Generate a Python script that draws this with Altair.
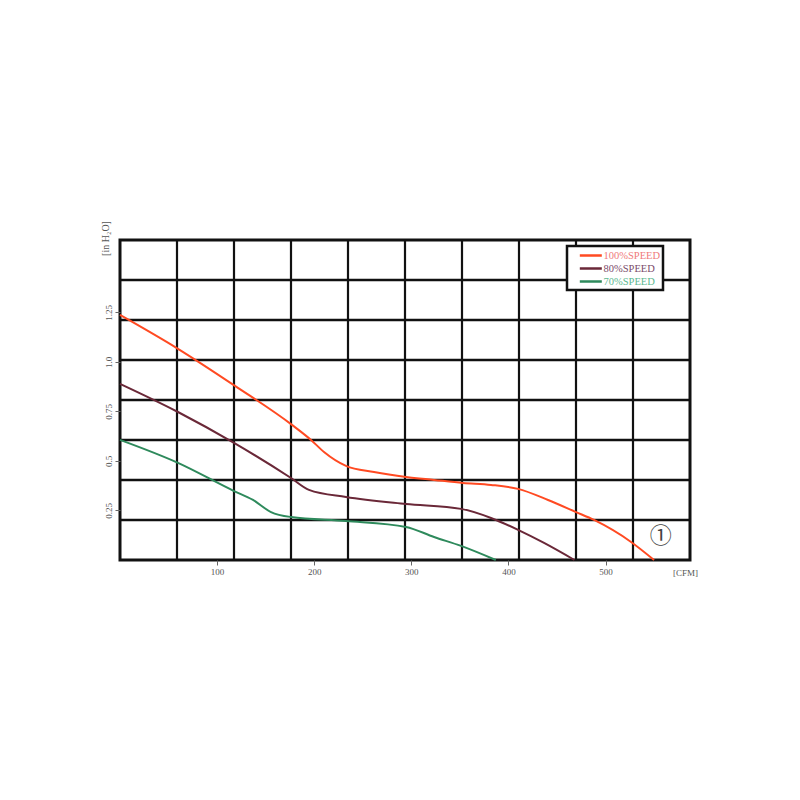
import altair as alt
import pandas as pd

# ---- data ----
series_names = ["100%SPEED", "80%SPEED", "70%SPEED"]
series_colors = ["#ff4a22", "#6a2838", "#2e8a5c"]
label_colors = ["#f07a7a", "#7a4a6a", "#5cb890"]

red_cfm = [0, 59.7, 118.4, 177.1, 196.7, 210.1, 232.7, 261.6, 294.5, 323.4, 353.2, 382.1, 409.9, 440.8, 469.6, 488.2, 526.3, 550]
red_p = [1.237, 1.066, 0.879, 0.682, 0.606, 0.545, 0.475, 0.444, 0.419, 0.404, 0.389, 0.379, 0.359, 0.303, 0.242, 0.202, 0.091, 0.0]

mar_cfm = [0, 59.7, 117.4, 176.1, 194.6, 232.7, 294.5, 351.2, 382.1, 409.9, 436.7, 468]
mar_p = [0.889, 0.747, 0.591, 0.414, 0.354, 0.318, 0.283, 0.258, 0.212, 0.152, 0.086, 0.0]

grn_cfm = [0, 59.7, 117.4, 137, 155.5, 176.1, 232.7, 294.5, 323.4, 351.2, 387]
grn_p = [0.606, 0.490, 0.348, 0.303, 0.242, 0.217, 0.197, 0.167, 0.116, 0.071, 0.0]

x_ticks = [100, 200, 300, 400, 500]
y_ticks = [0.25, 0.5, 0.75, 1.0, 1.25]
y_tick_labels = ["0.25", "0.5", "0.75", "1.0", "1.25"]

X_MAX = 587
Y_MAX = 1.615
x_grid = [X_MAX * i / 10 for i in range(1, 10)]
y_grid = [Y_MAX * i / 8 for i in range(1, 8)]

note_text = ["①"]
note_x = [557]
note_y = [0.121]

# ---- tables ----
rows = []
for name, xs_, ys_ in zip(series_names, [red_cfm, mar_cfm, grn_cfm], [red_p, mar_p, grn_p]):
    for i, (a, b) in enumerate(zip(xs_, ys_)):
        rows.append({"series": name, "cfm": a, "p": b, "order": i})
df = pd.DataFrame(rows)

xs = alt.Scale(domain=[0, X_MAX], nice=False, zero=False)
ys = alt.Scale(domain=[0, Y_MAX], nice=False, zero=False)

label_expr = " : ".join(
    [f"datum.value == {v} ? '{t}'" for v, t in zip(y_ticks, y_tick_labels)] + ["''"]
)
color_expr = " : ".join(
    [f"datum.label == '{n}' ? '{c}'" for n, c in zip(series_names, label_colors)] + ["'#888'"]
)

vgrid = alt.Chart(pd.DataFrame({"g": x_grid})).mark_rule(color="#111", strokeWidth=2.2).encode(
    x=alt.X("g:Q", scale=xs)
)
hgrid = alt.Chart(pd.DataFrame({"g": y_grid})).mark_rule(color="#111", strokeWidth=2.6).encode(
    y=alt.Y("g:Q", scale=ys)
)

lines = alt.Chart(df).mark_line(strokeWidth=2, interpolate="monotone").encode(
    x=alt.X(
        "cfm:Q", scale=xs,
        axis=alt.Axis(
            values=x_ticks, grid=False, domain=False, tickSize=5, tickColor="#666",
            labelFont="Liberation Serif", labelFontSize=9, labelColor="#555", labelPadding=2,
            title="[CFM]", titleFont="Liberation Serif", titleFontSize=9, titleFontWeight="normal",
            titleColor="#555", titleX=565, titleY=12, titleAlign="center", titleBaseline="middle",
        ),
    ),
    y=alt.Y(
        "p:Q", scale=ys,
        axis=alt.Axis(
            values=y_ticks, grid=False, domain=False, tickSize=5, tickColor="#666",
            labelExpr=label_expr, labelAngle=270, labelAlign="center", labelBaseline="bottom",
            labelFont="Liberation Serif", labelFontSize=9, labelColor="#555", labelPadding=2,
            title="[in H₂O]", titleFont="Liberation Serif", titleFontSize=10, titleFontWeight="normal",
            titleColor="#555", titleAngle=270, titleX=-10, titleY=-2, titleAlign="center",
            titleBaseline="bottom",
        ),
    ),
    color=alt.Color(
        "series:N",
        scale=alt.Scale(domain=series_names, range=series_colors),
        sort=series_names,
        legend=alt.Legend(
            title=None, orient="none", legendX=447, legendY=6,
            symbolType="M0.58,0H4.44", symbolSize=130, symbolStrokeWidth=2.5,
            labelFont="Liberation Serif", labelFontSize=10.5, labelColor={"expr": color_expr},
            fillColor="white", strokeColor="#111", padding=2.5, rowPadding=0,
            labelOffset=20,
        ),
    ),
    order="order:Q",
)

note = alt.Chart(pd.DataFrame({"t": note_text, "x": note_x, "y": note_y})).mark_text(
    font="Noto Sans CJK JP", fontSize=22, color="#444"
).encode(x=alt.X("x:Q", scale=xs), y=alt.Y("y:Q", scale=ys), text="t:N")

chart = alt.layer(vgrid, hgrid, lines, note).properties(
    width=570, height=320,
    autosize=alt.AutoSizeParams(type="none"),
    padding={"left": 112, "top": 232, "right": 80, "bottom": 80},
    background="white",
).configure_view(stroke="#111", strokeWidth=3).configure_legend(strokeWidth=2.5)

chart.save("out.html", embed_options={"renderer": "svg", "actions": False})
